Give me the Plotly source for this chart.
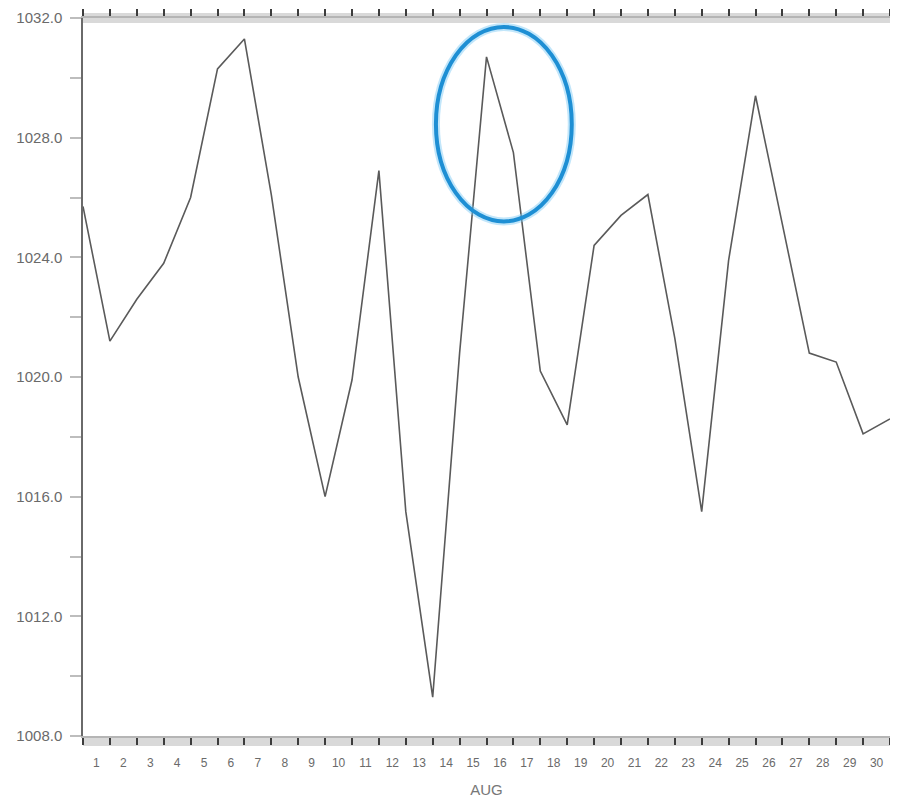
import plotly.graph_objects as go

# ---- data (sea-level pressure, hPa) ----
time_days = [1, 2, 3, 4, 5, 6, 7, 8, 9, 10, 11, 12, 13, 14, 15, 16,
             17, 18, 19, 20, 21, 22, 23, 24, 25, 26, 27, 28, 29, 30, 31]
pressure = [1025.7, 1021.2, 1022.6, 1023.8, 1026.0, 1030.3, 1031.3, 1026.1,
            1020.0, 1016.0, 1019.9, 1026.9, 1015.5, 1009.3, 1020.8, 1030.7,
            1027.5, 1020.2, 1018.4, 1024.4, 1025.4, 1026.1, 1021.3, 1015.5,
            1023.9, 1029.4, 1025.1, 1020.8, 1020.5, 1018.1, 1018.6]
day_label_pos = [d + 0.5 for d in range(1, 31)]
day_labels = [str(d) for d in range(1, 31)]
y_ticks = [1008, 1012, 1016, 1020, 1024, 1028, 1032]
y_labels = ["1008.0", "1012.0", "1016.0", "1020.0", "1024.0", "1028.0", "1032.0"]
x_title = "AUG"
# highlighted region (ellipse bounds in data units)
hl_x = [14.12, 19.17]
hl_y = [1025.2, 1031.7]

font = "Liberation Sans, Arial, sans-serif"
txt = "#6a6a6a"

fig = go.Figure()
fig.add_trace(go.Scatter(x=time_days, y=pressure, mode="lines",
                         line=dict(color="#5a5a5a", width=1.6),
                         showlegend=False, hoverinfo="skip"))

# page body has an 8px default margin, so margins are offset accordingly
fig.update_layout(
    width=898, height=805,
    margin=dict(l=75, r=16, t=10, b=77, autoexpand=False),
    paper_bgcolor="white", plot_bgcolor="white",
    font=dict(family=font, color=txt),
    xaxis=dict(range=[1, 31], tickmode="array", tickvals=day_label_pos,
               ticktext=day_labels, ticks="outside", ticklen=15,
               tickcolor="rgba(0,0,0,0)", tickfont=dict(size=12, color=txt),
               showgrid=False, zeroline=False, showline=True, automargin=False,
               linecolor="#b5b5b5", linewidth=2, mirror="allticks",
               minor=dict(dtick=1, tick0=1, ticks="outside", ticklen=7,
                          tickcolor="#3c3c3c", tickwidth=1.5, showgrid=False),
               title=dict(text=x_title, font=dict(size=15, color="#777777"),
                          standoff=15)),
    yaxis=dict(range=[1008, 1032], tickmode="array", tickvals=y_ticks,
               ticktext=y_labels, ticks="outside", ticklen=11,
               tickcolor="#bdbdbd", tickwidth=2, ticklabelstandoff=5,
               tickfont=dict(size=15, color=txt), automargin=False,
               showgrid=False, zeroline=False, showline=True,
               linecolor="#6a6a6a", linewidth=1.5, mirror="allticks",
               minor=dict(dtick=2, tick0=1008, ticks="outside", ticklen=11,
                          tickcolor="#bdbdbd", tickwidth=2, showgrid=False)),
    shapes=[
        # dense-tick bands along top and bottom edges
        dict(type="rect", xref="paper", yref="paper", x0=0, x1=1,
             y0=-0.014, y1=0.0, fillcolor="#d9d9d9", line=dict(width=0),
             layer="below"),
        dict(type="rect", xref="paper", yref="paper", x0=0, x1=1,
             y0=0.993, y1=1.007, fillcolor="#d9d9d9", line=dict(width=0),
             layer="below"),
        # highlight ellipse
        dict(type="circle", xref="x", yref="y", x0=hl_x[0], x1=hl_x[1],
             y0=hl_y[0], y1=hl_y[1], line=dict(color="rgba(120,200,245,0.45)", width=8)),
        dict(type="circle", xref="x", yref="y", x0=hl_x[0], x1=hl_x[1],
             y0=hl_y[0], y1=hl_y[1], line=dict(color="#1e8fd4", width=4)),
    ],
)

fig.write_html("out.html")
